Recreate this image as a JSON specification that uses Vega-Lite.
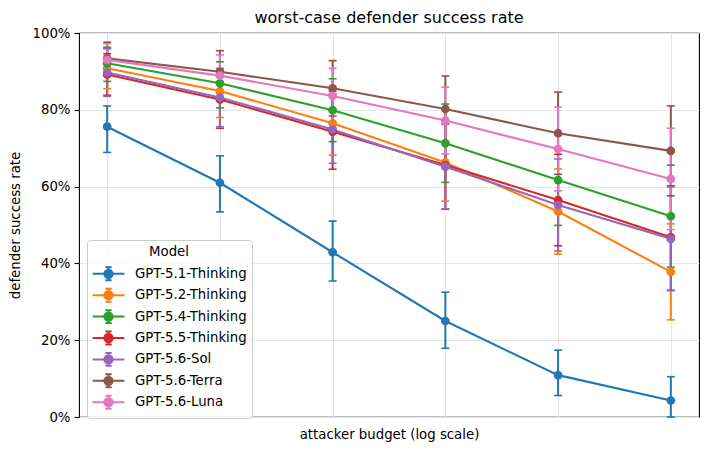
{
  "$schema": "https://vega.github.io/schema/vega-lite/v6.json",
  "width": 620,
  "height": 384,
  "autosize": {"type": "none"},
  "padding": {"left": 79, "top": 33, "right": 9, "bottom": 34},
  "background": "white",
  "title": {"text": "worst-case defender success rate", "font": "DejaVu Sans", "fontSize": 16, "fontWeight": "normal", "color": "black", "anchor": "middle", "offset": 0},
  "config": {
    "view": {"stroke": "black", "strokeWidth": 1.1},
    "font": "DejaVu Sans"
  },
  "data": {"values": [
    {"model": "GPT-5.1-Thinking", "budget": 1, "rate": 0.756, "lo": 0.689, "hi": 0.810},
    {"model": "GPT-5.1-Thinking", "budget": 2, "rate": 0.610, "lo": 0.534, "hi": 0.680},
    {"model": "GPT-5.1-Thinking", "budget": 4, "rate": 0.429, "lo": 0.354, "hi": 0.510},
    {"model": "GPT-5.1-Thinking", "budget": 8, "rate": 0.250, "lo": 0.179, "hi": 0.325},
    {"model": "GPT-5.1-Thinking", "budget": 16, "rate": 0.109, "lo": 0.056, "hi": 0.174},
    {"model": "GPT-5.1-Thinking", "budget": 32, "rate": 0.043, "lo": 0.0, "hi": 0.105},
    {"model": "GPT-5.2-Thinking", "budget": 1, "rate": 0.908, "lo": 0.855, "hi": 0.960},
    {"model": "GPT-5.2-Thinking", "budget": 2, "rate": 0.849, "lo": 0.780, "hi": 0.906},
    {"model": "GPT-5.2-Thinking", "budget": 4, "rate": 0.765, "lo": 0.682, "hi": 0.848},
    {"model": "GPT-5.2-Thinking", "budget": 8, "rate": 0.663, "lo": 0.562, "hi": 0.764},
    {"model": "GPT-5.2-Thinking", "budget": 16, "rate": 0.535, "lo": 0.424, "hi": 0.646},
    {"model": "GPT-5.2-Thinking", "budget": 32, "rate": 0.378, "lo": 0.253, "hi": 0.503},
    {"model": "GPT-5.4-Thinking", "budget": 1, "rate": 0.921, "lo": 0.874, "hi": 0.963},
    {"model": "GPT-5.4-Thinking", "budget": 2, "rate": 0.869, "lo": 0.805, "hi": 0.925},
    {"model": "GPT-5.4-Thinking", "budget": 4, "rate": 0.799, "lo": 0.717, "hi": 0.881},
    {"model": "GPT-5.4-Thinking", "budget": 8, "rate": 0.713, "lo": 0.611, "hi": 0.815},
    {"model": "GPT-5.4-Thinking", "budget": 16, "rate": 0.617, "lo": 0.499, "hi": 0.735},
    {"model": "GPT-5.4-Thinking", "budget": 32, "rate": 0.523, "lo": 0.390, "hi": 0.656},
    {"model": "GPT-5.5-Thinking", "budget": 1, "rate": 0.892, "lo": 0.838, "hi": 0.946},
    {"model": "GPT-5.5-Thinking", "budget": 2, "rate": 0.827, "lo": 0.752, "hi": 0.902},
    {"model": "GPT-5.5-Thinking", "budget": 4, "rate": 0.743, "lo": 0.645, "hi": 0.841},
    {"model": "GPT-5.5-Thinking", "budget": 8, "rate": 0.656, "lo": 0.541, "hi": 0.771},
    {"model": "GPT-5.5-Thinking", "budget": 16, "rate": 0.565, "lo": 0.446, "hi": 0.684},
    {"model": "GPT-5.5-Thinking", "budget": 32, "rate": 0.468, "lo": 0.330, "hi": 0.602},
    {"model": "GPT-5.6-Sol", "budget": 1, "rate": 0.897, "lo": 0.835, "hi": 0.959},
    {"model": "GPT-5.6-Sol", "budget": 2, "rate": 0.832, "lo": 0.756, "hi": 0.908},
    {"model": "GPT-5.6-Sol", "budget": 4, "rate": 0.749, "lo": 0.661, "hi": 0.837},
    {"model": "GPT-5.6-Sol", "budget": 8, "rate": 0.652, "lo": 0.542, "hi": 0.762},
    {"model": "GPT-5.6-Sol", "budget": 16, "rate": 0.552, "lo": 0.432, "hi": 0.672},
    {"model": "GPT-5.6-Sol", "budget": 32, "rate": 0.464, "lo": 0.329, "hi": 0.599},
    {"model": "GPT-5.6-Terra", "budget": 1, "rate": 0.934, "lo": 0.892, "hi": 0.976},
    {"model": "GPT-5.6-Terra", "budget": 2, "rate": 0.899, "lo": 0.844, "hi": 0.954},
    {"model": "GPT-5.6-Terra", "budget": 4, "rate": 0.856, "lo": 0.784, "hi": 0.928},
    {"model": "GPT-5.6-Terra", "budget": 8, "rate": 0.802, "lo": 0.716, "hi": 0.888},
    {"model": "GPT-5.6-Terra", "budget": 16, "rate": 0.739, "lo": 0.632, "hi": 0.846},
    {"model": "GPT-5.6-Terra", "budget": 32, "rate": 0.693, "lo": 0.576, "hi": 0.810},
    {"model": "GPT-5.6-Luna", "budget": 1, "rate": 0.930, "lo": 0.888, "hi": 0.972},
    {"model": "GPT-5.6-Luna", "budget": 2, "rate": 0.889, "lo": 0.835, "hi": 0.943},
    {"model": "GPT-5.6-Luna", "budget": 4, "rate": 0.836, "lo": 0.764, "hi": 0.908},
    {"model": "GPT-5.6-Luna", "budget": 8, "rate": 0.772, "lo": 0.685, "hi": 0.859},
    {"model": "GPT-5.6-Luna", "budget": 16, "rate": 0.698, "lo": 0.589, "hi": 0.807},
    {"model": "GPT-5.6-Luna", "budget": 32, "rate": 0.620, "lo": 0.488, "hi": 0.752}
  ]},
  "encoding": {
    "x": {
      "field": "budget", "type": "quantitative",
      "scale": {"type": "log", "base": 2, "domain": [0.8409, 38.055], "nice": false, "zero": false},
      "axis": {"title": "attacker budget (log scale)", "values": [1, 2, 4, 8, 16, 32], "labels": false, "ticks": false, "domain": false, "grid": true, "gridColor": "#e4e4e4", "gridWidth": 1, "titleFont": "DejaVu Sans", "titleFontSize": 13.3, "titleFontWeight": "normal", "titleColor": "black", "titlePadding": 10}
    },
    "color": {
      "field": "model", "type": "nominal",
      "scale": {
        "domain": ["GPT-5.1-Thinking", "GPT-5.2-Thinking", "GPT-5.4-Thinking", "GPT-5.5-Thinking", "GPT-5.6-Sol", "GPT-5.6-Terra", "GPT-5.6-Luna"],
        "range": ["#1f77b4", "#ff7f0e", "#2ca02c", "#d62728", "#9467bd", "#8c564b", "#e377c2"]
      },
      "legend": {
        "title": "Model", "orient": "none", "legendX": 8, "legendY": 207,
        "titleFont": "DejaVu Sans", "titleFontSize": 13.3, "titleFontWeight": "normal", "titleColor": "black", "titleAnchor": "middle", "titlePadding": 5,
        "labelFont": "DejaVu Sans", "labelFontSize": 13.3, "labelColor": "black", "labelOffset": 16,
        "symbolType": "M-1.72,0H1.72M0,-0.7V0.7M-0.34,-0.7H0.34M-0.34,0.7H0.34M-0.45,0A0.45,0.45,0,1,0,0.45,0A0.45,0.45,0,1,0,-0.45,0Z",
        "symbolSize": 342, "symbolStrokeWidth": 2, "symbolOffset": 6,
        "padding": 5, "rowPadding": 0.4, "strokeColor": "#cccccc", "fillColor": "rgba(255,255,255,0.8)", "cornerRadius": 3,
        "encode": {"symbols": {"update": {"fill": {"scale": "color", "field": "value"}, "stroke": {"scale": "color", "field": "value"}, "opacity": {"value": 1}, "fillOpacity": {"value": 1}}}}
      }
    }
  },
  "layer": [
    {
      "mark": {"type": "rule", "strokeWidth": 2},
      "encoding": {
        "y": {"field": "lo", "type": "quantitative", "scale": {"domain": [0, 1]},
          "axis": {"title": "defender success rate", "values": [0, 0.2, 0.4, 0.6, 0.8, 1.0], "format": ".0%", "grid": true, "gridColor": "#e4e4e4", "gridWidth": 1, "domain": false, "tickColor": "black", "tickSize": 5, "tickWidth": 1.1, "labelPadding": 4, "labelFont": "DejaVu Sans", "labelFontSize": 13.3, "labelColor": "black", "titleFont": "DejaVu Sans", "titleFontSize": 13.3, "titleFontWeight": "normal", "titleColor": "black", "titlePadding": 9}},
        "y2": {"field": "hi"}
      }
    },
    {
      "mark": {"type": "tick", "orient": "horizontal", "size": 8, "thickness": 1.6, "opacity": 1},
      "encoding": {"y": {"field": "lo", "type": "quantitative"}}
    },
    {
      "mark": {"type": "tick", "orient": "horizontal", "size": 8, "thickness": 1.6, "opacity": 1},
      "encoding": {"y": {"field": "hi", "type": "quantitative"}}
    },
    {
      "mark": {"type": "line", "strokeWidth": 2.1},
      "encoding": {"y": {"field": "rate", "type": "quantitative"}}
    },
    {
      "mark": {"type": "point", "shape": "circle", "filled": true, "size": 76, "opacity": 1},
      "encoding": {"y": {"field": "rate", "type": "quantitative"}}
    }
  ]
}
